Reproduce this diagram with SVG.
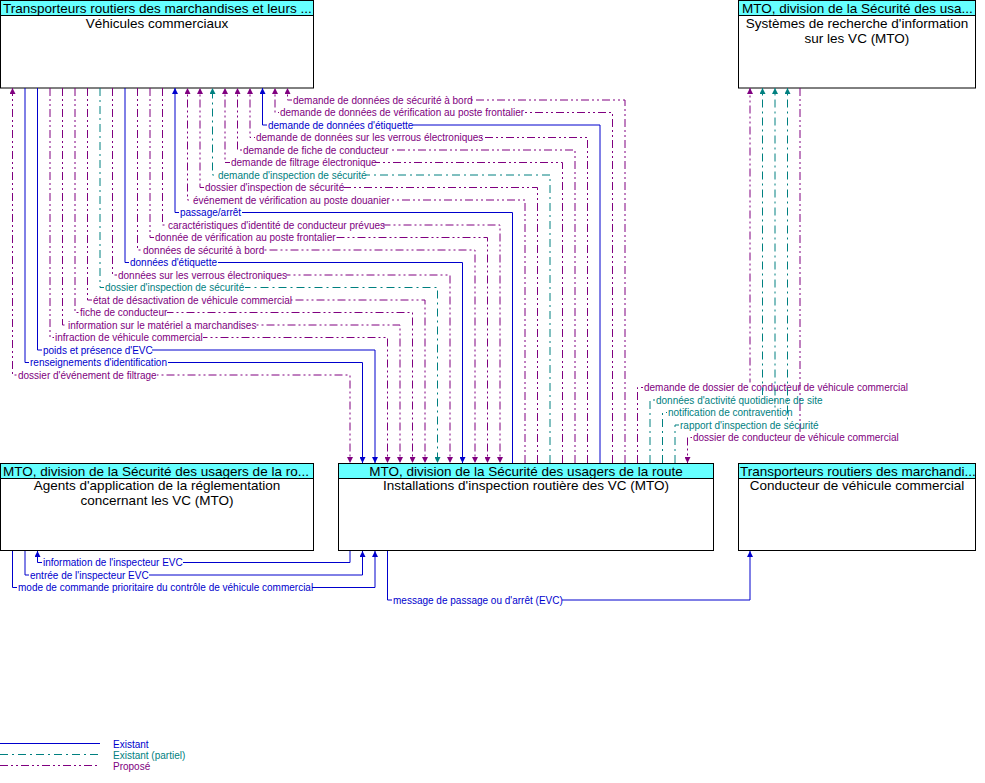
<svg xmlns="http://www.w3.org/2000/svg" width="985" height="783" viewBox="0 0 985 783">
<style>
.bg{fill:#ffffff}
.box{fill:#ffffff;stroke:#000000;stroke-width:1}
.hdr{fill:#66FFFF;stroke:#000000;stroke-width:1}
.ht{font-family:"Liberation Sans",Arial,sans-serif;font-size:13.5px;fill:#000000}
.c{fill:none;stroke-width:1}
.b{stroke:#0000CD;stroke-dasharray:none}
.p{stroke:#800080;stroke-dasharray:8 3 2 3 2 3}
.t{stroke:#008080;stroke-dasharray:8 4 2 4}
.lb{font-family:"Liberation Sans",Arial,sans-serif;font-size:10px}
.fb{fill:#0000CD}
.fp{fill:#800080}
.ft{fill:#008080}
.lr{fill:#ffffff}
</style>
<defs>
<marker id="ab" viewBox="0 0 6 6" refX="6" refY="3" markerWidth="6" markerHeight="6" markerUnits="userSpaceOnUse" orient="auto-start-reverse"><path d="M0,0 L6,3 L0,6 z" fill="#0000CD"/></marker>
<marker id="ap" viewBox="0 0 6 6" refX="6" refY="3" markerWidth="6" markerHeight="6" markerUnits="userSpaceOnUse" orient="auto-start-reverse"><path d="M0,0 L6,3 L0,6 z" fill="#800080"/></marker>
<marker id="at" viewBox="0 0 6 6" refX="6" refY="3" markerWidth="6" markerHeight="6" markerUnits="userSpaceOnUse" orient="auto-start-reverse"><path d="M0,0 L6,3 L0,6 z" fill="#008080"/></marker>
</defs>
<rect class="bg" x="0" y="0" width="985" height="783"/>

<g id="node-vehicules">
<rect class="box" x="0.5" y="0.5" width="313" height="87.5"/>
<rect class="hdr" x="0.5" y="0.5" width="313" height="15"/>
<text class="ht" x="3" y="12.5">Transporteurs routiers des marchandises et leurs ...</text>
<text class="ht" x="157" y="28" text-anchor="middle">Véhicules commerciaux</text>
</g>

<g id="node-systemes">
<rect class="box" x="738.5" y="0.5" width="237" height="87.5"/>
<rect class="hdr" x="738.5" y="0.5" width="237" height="15"/>
<text class="ht" x="742" y="12.5">MTO, division de la Sécurité des usa...</text>
<text class="ht" x="857" y="28" text-anchor="middle">Systèmes de recherche d'information</text>
<text class="ht" x="857" y="43" text-anchor="middle">sur les VC (MTO)</text>
</g>

<g id="node-agents">
<rect class="box" x="0.5" y="463.5" width="313" height="87"/>
<rect class="hdr" x="0.5" y="463.5" width="313" height="15"/>
<text class="ht" x="3" y="475.5">MTO, division de la Sécurité des usagers de la ro...</text>
<text class="ht" x="157" y="490" text-anchor="middle">Agents d'application de la réglementation</text>
<text class="ht" x="157" y="505" text-anchor="middle">concernant les VC (MTO)</text>
</g>

<g id="node-installations">
<rect class="box" x="338.5" y="463.5" width="375" height="87"/>
<rect class="hdr" x="338.5" y="463.5" width="375" height="15"/>
<text class="ht" x="526" y="475.5" text-anchor="middle">MTO, division de la Sécurité des usagers de la route</text>
<text class="ht" x="526" y="490" text-anchor="middle">Installations d'inspection routière des VC (MTO)</text>
</g>

<g id="node-conducteur">
<rect class="box" x="738.5" y="463.5" width="237" height="87"/>
<rect class="hdr" x="738.5" y="463.5" width="237" height="15"/>
<text class="ht" x="740" y="475.5">Transporteurs routiers des marchandi...</text>
<text class="ht" x="857" y="490" text-anchor="middle">Conducteur de véhicule commercial</text>
</g>

<g id="connectors">
<g><path class="c p" d="M12.5,88 V375 H350 V463" marker-start="url(#ap)" marker-end="url(#ap)"/><rect class="lr" x="17" y="370" width="140" height="10"/><text class="lb fp" x="18" y="378.5">dossier d'événement de filtrage</text></g>
<g><path class="c b" d="M25,88 V362.5 H362.5 V463" marker-end="url(#ab)"/><rect class="lr" x="29" y="357.5" width="139" height="10"/><text class="lb fb" x="30" y="366">renseignements d'identification</text></g>
<g><path class="c b" d="M37.5,88 V350 H375 V463" marker-end="url(#ab)"/><rect class="lr" x="42" y="345" width="110" height="10"/><text class="lb fb" x="43" y="353.5">poids et présence d'EVC</text></g>
<g><path class="c p" d="M50,88 V337.5 H387.5 V463" marker-end="url(#ap)"/><rect class="lr" x="54" y="332.5" width="149" height="10"/><text class="lb fp" x="55" y="341">infraction de véhicule commercial</text></g>
<g><path class="c p" d="M62.5,88 V325 H400 V463" marker-end="url(#ap)"/><rect class="lr" x="67" y="320" width="188" height="10"/><text class="lb fp" x="68" y="328.5">information sur le matériel a marchandises</text></g>
<g><path class="c p" d="M75,88 V312.5 H412.5 V463" marker-end="url(#ap)"/><rect class="lr" x="79" y="307.5" width="88" height="10"/><text class="lb fp" x="80" y="316">fiche de conducteur</text></g>
<g><path class="c p" d="M87.5,88 V300 H425 V463" marker-end="url(#ap)"/><rect class="lr" x="92" y="295" width="199" height="10"/><text class="lb fp" x="93" y="303.5">état de désactivation de véhicule commercial</text></g>
<g><path class="c t" d="M100,88 V287.5 H437.5 V463" marker-end="url(#at)"/><rect class="lr" x="104" y="282.5" width="141" height="10"/><text class="lb ft" x="105" y="291">dossier d'inspection de sécurité</text></g>
<g><path class="c p" d="M112.5,88 V275 H450 V463" marker-end="url(#ap)"/><rect class="lr" x="117" y="270" width="169" height="10"/><text class="lb fp" x="118" y="278.5">données sur les verrous électroniques</text></g>
<g><path class="c b" d="M125,88 V262.5 H462.5 V463" marker-end="url(#ab)"/><rect class="lr" x="129" y="257.5" width="89" height="10"/><text class="lb fb" x="130" y="266">données d'étiquette</text></g>
<g><path class="c p" d="M137.5,88 V250 H475 V463" marker-end="url(#ap)"/><rect class="lr" x="142" y="245" width="121" height="10"/><text class="lb fp" x="143" y="253.5">données de sécurité à bord</text></g>
<g><path class="c p" d="M150,88 V237.5 H487.5 V463" marker-end="url(#ap)"/><rect class="lr" x="154" y="232.5" width="180" height="10"/><text class="lb fp" x="155" y="241">donnée de vérification au poste frontalier</text></g>
<g><path class="c p" d="M162.5,88 V225 H500 V463" marker-end="url(#ap)"/><rect class="lr" x="167" y="220" width="216" height="10"/><text class="lb fp" x="168" y="228.5">caractéristiques d'identité de conducteur prévues</text></g>
<g><path class="c b" d="M512.5,463 V212.5 H175 V88" marker-end="url(#ab)"/><rect class="lr" x="179" y="207.5" width="63" height="10"/><text class="lb fb" x="180" y="216">passage/arrêt</text></g>
<g><path class="c p" d="M525,463 V200 H187.5 V88" marker-end="url(#ap)"/><rect class="lr" x="192" y="195" width="197" height="10"/><text class="lb fp" x="193" y="203.5">événement de vérification au poste douanier</text></g>
<g><path class="c p" d="M537.5,463 V187.5 H200 V88" marker-end="url(#ap)"/><rect class="lr" x="204" y="182.5" width="140" height="10"/><text class="lb fp" x="205" y="191">dossier d'inspection de sécurité</text></g>
<g><path class="c t" d="M550,463 V175 H212.5 V88" marker-end="url(#at)"/><rect class="lr" x="217" y="170" width="149" height="10"/><text class="lb ft" x="218" y="178.5">demande d'inspection de sécurité</text></g>
<g><path class="c p" d="M562.5,463 V162.5 H225 V88" marker-end="url(#ap)"/><rect class="lr" x="230" y="157.5" width="145" height="10"/><text class="lb fp" x="231" y="166">demande de filtrage électronique</text></g>
<g><path class="c p" d="M575,463 V150 H237.5 V88" marker-end="url(#ap)"/><rect class="lr" x="242" y="145" width="147" height="10"/><text class="lb fp" x="243" y="153.5">demande de fiche de conducteur</text></g>
<g><path class="c p" d="M587.5,463 V137.5 H250 V88" marker-end="url(#ap)"/><rect class="lr" x="255" y="132.5" width="226" height="10"/><text class="lb fp" x="256" y="141">demande de données sur les verrous électroniques</text></g>
<g><path class="c b" d="M600,463 V125 H262.5 V88" marker-end="url(#ab)"/><rect class="lr" x="267" y="120" width="146" height="10"/><text class="lb fb" x="268" y="128.5">demande de données d'étiquette</text></g>
<g><path class="c p" d="M612.5,463 V112.5 H275 V88" marker-end="url(#ap)"/><rect class="lr" x="279" y="107.5" width="244" height="10"/><text class="lb fp" x="280" y="116">demande de données de vérification au poste frontalier</text></g>
<g><path class="c p" d="M625,463 V100 H287.5 V88" marker-end="url(#ap)"/><rect class="lr" x="292" y="95" width="179" height="10"/><text class="lb fp" x="293" y="103.5">demande de données de sécurité à bord</text></g>

<g><path class="c p" d="M637.5,463 V387.5 H750 V88" marker-end="url(#ap)"/><rect class="lr" x="643" y="382.5" width="263" height="10"/><text class="lb fp" x="644" y="391">demande de dossier de conducteur de véhicule commercial</text></g>
<g><path class="c t" d="M650,463 V400 H762.5 V88" marker-end="url(#at)"/><rect class="lr" x="655" y="395" width="167" height="10"/><text class="lb ft" x="656" y="403.5">données d'activité quotidienne de site</text></g>
<g><path class="c t" d="M662.5,463 V412.5 H775 V88" marker-end="url(#at)"/><rect class="lr" x="667" y="407.5" width="126" height="10"/><text class="lb ft" x="668" y="416">notification de contravention</text></g>
<g><path class="c t" d="M675,463 V425 H787.5 V88" marker-end="url(#at)"/><rect class="lr" x="679" y="420" width="140" height="10"/><text class="lb ft" x="680" y="428.5">rapport d'inspection de sécurité</text></g>
<g><path class="c p" d="M800,88 V437.5 H687.5 V463" marker-end="url(#ap)"/><rect class="lr" x="692" y="432.5" width="206" height="10"/><text class="lb fp" x="693" y="441">dossier de conducteur de véhicule commercial</text></g>

<g><path class="c b" d="M350,551 V562.5 H37.5 V551" marker-end="url(#ab)"/><rect class="lr" x="42" y="557.5" width="141" height="10"/><text class="lb fb" x="43" y="566">information de l'inspecteur EVC</text></g>
<g><path class="c b" d="M25,551 V575 H362.5 V551" marker-end="url(#ab)"/><rect class="lr" x="29" y="570" width="120" height="10"/><text class="lb fb" x="30" y="578.5">entrée de l'inspecteur EVC</text></g>
<g><path class="c b" d="M12.5,551 V587.5 H375 V551" marker-end="url(#ab)"/><rect class="lr" x="17" y="582.5" width="295" height="10"/><text class="lb fb" x="18" y="591">mode de commande prioritaire du contrôle de véhicule commercial</text></g>
<g><path class="c b" d="M387.5,551 V600 H750 V551" marker-end="url(#ab)"/><rect class="lr" x="392" y="595" width="170" height="10"/><text class="lb fb" x="393" y="603.5">message de passage ou d'arrêt (EVC)</text></g>
</g>

<g id="legend">
<path class="c b" d="M0,743.5 H100"/>
<path class="c t" d="M0,754.5 H100"/>
<path class="c p" d="M0,765.5 H100"/>
<text class="lb fb" x="113" y="747.5">Existant</text>
<text class="lb ft" x="113" y="758.5">Existant (partiel)</text>
<text class="lb fp" x="113" y="769.5">Proposé</text>
</g>
</svg>
